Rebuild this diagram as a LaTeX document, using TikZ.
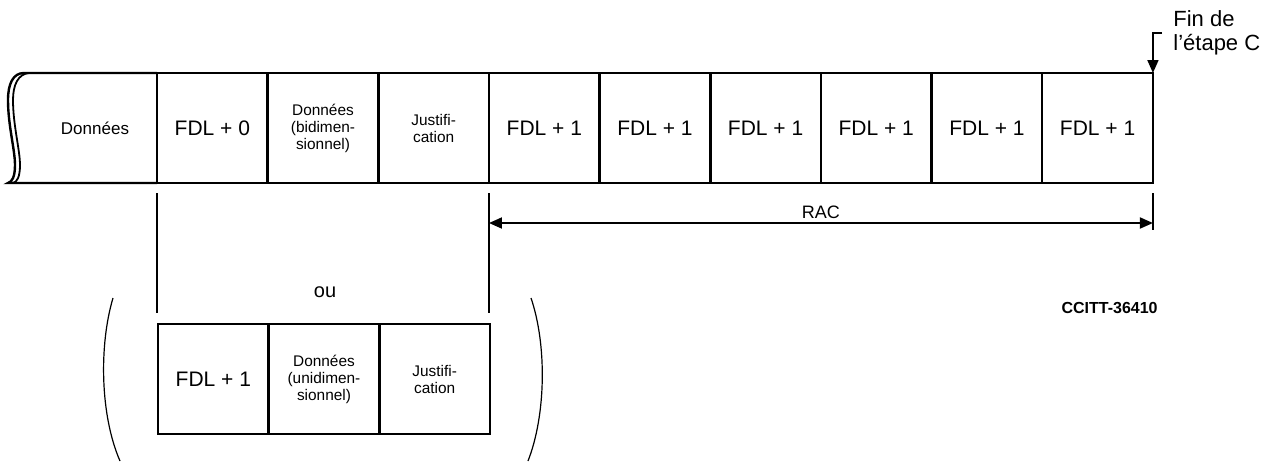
\documentclass[tikz,border=0pt]{standalone}
\usepackage{fontspec}
\setmainfont{Liberation Sans}
\usepackage{tikz}
\usetikzlibrary{arrows.meta,positioning}

\begin{document}
\begin{tikzpicture}[
        x=0.5pt, y=-0.5pt,
        cell/.style={draw, line width=1.2pt, minimum width=55.33pt, minimum height=55pt,
            inner sep=0pt, outer sep=0pt, align=center, font=\fontsize{10.5}{12}\selectfont},
        smallcell/.style={cell, font=\fontsize{7.7}{8.5}\selectfont},
        arrow/.style={{Triangle[length=6.5pt, width=5.5pt]}-{Triangle[length=6.5pt, width=5.5pt]}, line width=0.9pt},
        guide/.style={line width=0.9pt},
        node distance=0pt
    ]
    \useasboundingbox (0,0) rectangle (1274,461);

    % Main strip
    \node[cell, anchor=west] (fdl0) at (157,128) {FDL + 0};
    \node[smallcell, right=of fdl0] (bidim) {Données\\(bidimen-\\sionnel)};
    \node[smallcell, right=of bidim] (justa) {Justifi-\\cation};
    \node[cell, right=of justa] (rac1) {FDL + 1};
    \node[cell, right=of rac1] (rac2) {FDL + 1};
    \node[cell, right=of rac2] (rac3) {FDL + 1};
    \node[cell, right=of rac3] (rac4) {FDL + 1};
    \node[cell, right=of rac4] (rac5) {FDL + 1};
    \node[cell, right=of rac5] (rac6) {FDL + 1};

    % Torn start of the strip
    \node[font=\fontsize{8.5}{10}\selectfont] (data) at (95,128) {Données};
    \draw[line width=1.2pt] (fdl0.north west) -- (24,73)
        .. controls (13,73) and (8,84) .. (8,100)
        .. controls (8,125) and (15,150) .. (15,165)
        .. controls (15,177) and (12,182) .. (8,183) -- (fdl0.south west);
    \draw[line width=0.9pt] (29,73)
        .. controls (18,74) and (13,85) .. (13,100)
        .. controls (13,125) and (20,150) .. (20,165)
        .. controls (20,177) and (17,182) .. (13,183);

    % End of step C
    \node[font=\fontsize{11}{12}\selectfont, align=left, anchor=west, inner sep=5.5pt] (fin) at (1162,33) {Fin de\\l’étape C};
    \draw[line width=0.9pt, -{Triangle[length=6.5pt, width=5.5pt]}] (fin.west) -| (rac6.north east);

    % Guides and RAC
    \draw[guide] ([yshift=-5pt]fdl0.south west) -- ++(0,120);
    \draw[guide] ([yshift=-5pt]rac1.south west) -- ++(0,120);
    \draw[guide] ([yshift=-5pt]rac6.south east) -- ++(0,37);
    \draw[arrow] ([yshift=-20pt]rac1.south west) -- node[above=1.5pt, inner sep=0pt, font=\fontsize{9}{11}\selectfont] (rac) {RAC} ([yshift=-20pt]rac6.south east);

    % Alternative
    \node[font=\fontsize{10}{12}\selectfont] (ou) at (325,292) {ou};
    \node[cell, anchor=west] (fdlu) at (158,379) {FDL + 1};
    \node[smallcell, right=of fdlu] (unidim) {Données\\(unidimen-\\sionnel)};
    \node[smallcell, right=of unidim] (justb) {Justifi-\\cation};
    \draw[line width=0.6pt] (113,298) .. controls (99,345) and (100,415) .. (120,461);
    \draw[line width=0.6pt] (531,298) .. controls (547,345) and (546,415) .. (528,461);

    \node[font=\bfseries\fontsize{8}{10}\selectfont, anchor=east, inner sep=0pt] (ref) at (1158,308) {CCITT-36410};
\end{tikzpicture}
\end{document}
